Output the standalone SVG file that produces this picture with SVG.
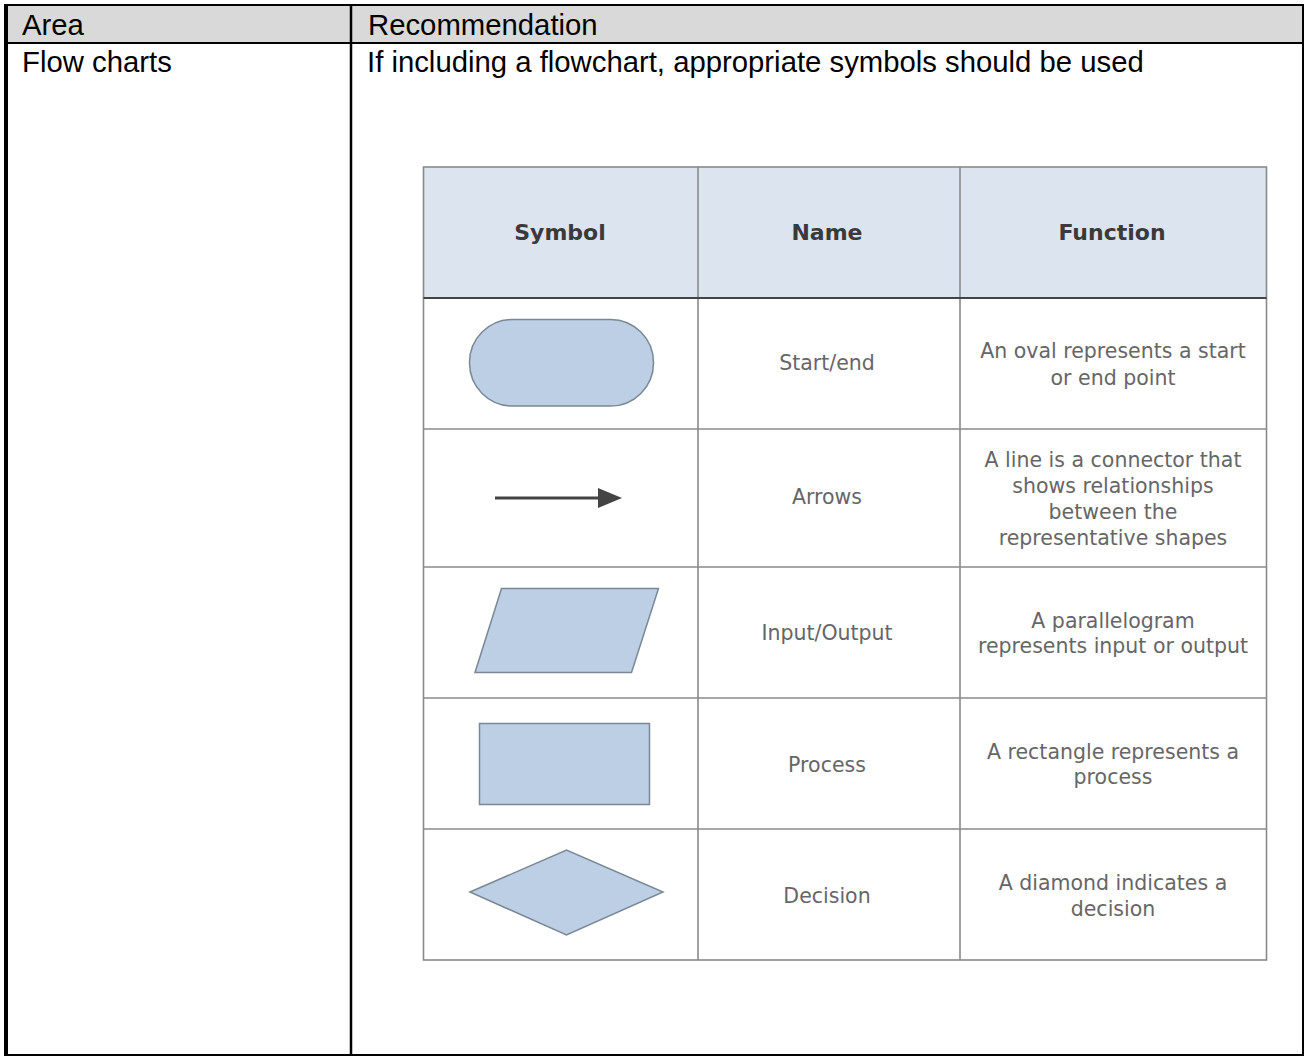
<svg xmlns="http://www.w3.org/2000/svg" width="1304" height="1056" viewBox="0 0 1304 1056">
<style>
.doc{font-family:"Liberation Sans",Arial,sans-serif;font-size:29.3px;fill:#000}
.th{font-family:"DejaVu Sans",Verdana,sans-serif;font-size:22px;font-weight:bold;fill:#3a3a3a;text-anchor:middle}
.td{font-family:"DejaVu Sans",Verdana,sans-serif;font-size:20.5px;fill:#666;text-anchor:middle}
.grid{stroke:#8a8a8a;stroke-width:1.6;fill:none}
.shape{fill:#bccfe5;stroke:#7a8896;stroke-width:1.5}
</style>
<defs>
<marker id="ah" markerWidth="24" markerHeight="20" refX="0" refY="10" orient="auto" markerUnits="userSpaceOnUse" viewBox="0 0 24 20">
<path d="M0,0 L24,10 L0,20 Z" fill="#444"/>
</marker>
</defs>
<rect x="0" y="0" width="1304" height="1056" fill="#fff"/>
<g id="outer-table">
<rect x="6" y="5" width="1296" height="38" fill="#d9d9d9"/>
<line x1="4" y1="5" x2="1304" y2="5" stroke="#000" stroke-width="2"/>
<line x1="6" y1="4" x2="6" y2="1056" stroke="#000" stroke-width="4"/>
<line x1="1303" y1="4" x2="1303" y2="1056" stroke="#000" stroke-width="2"/>
<line x1="4" y1="1055" x2="1304" y2="1055" stroke="#000" stroke-width="2"/>
<line x1="4" y1="43" x2="1304" y2="43" stroke="#000" stroke-width="2"/>
<line x1="351" y1="5" x2="351" y2="1055" stroke="#000" stroke-width="2.5"/>
<text class="doc" x="22" y="35">Area</text>
<text class="doc" x="368" y="35">Recommendation</text>
<text class="doc" x="22" y="72">Flow charts</text>
<text class="doc" x="367" y="72">If including a flowchart, appropriate symbols should be used</text>
</g>
<g id="symbol-table">
<rect x="423.5" y="167" width="843" height="131" fill="#dce4ef"/>
<rect x="423.5" y="167" width="843" height="793" class="grid"/>
<line class="grid" x1="698" y1="167" x2="698" y2="960"/>
<line class="grid" x1="960" y1="167" x2="960" y2="960"/>
<line x1="423.5" y1="298" x2="1266.5" y2="298" stroke="#444" stroke-width="2"/>
<line class="grid" x1="423.5" y1="429" x2="1266.5" y2="429"/>
<line class="grid" x1="423.5" y1="567" x2="1266.5" y2="567"/>
<line class="grid" x1="423.5" y1="698" x2="1266.5" y2="698"/>
<line class="grid" x1="423.5" y1="829" x2="1266.5" y2="829"/>
<text class="th" x="560" y="240">Symbol</text>
<text class="th" x="827" y="240">Name</text>
<text class="th" x="1112" y="240">Function</text>
</g>
<g id="row-startend">
<rect class="shape" x="469.5" y="319.5" width="184" height="86.5" rx="43" ry="43"/>
<text class="td" x="827" y="370">Start/end</text>
<text class="td" x="1113" y="358">An oval represents a start</text>
<text class="td" x="1113" y="385">or end point</text>
</g>
<g id="row-arrows">
<text class="td" x="827" y="504">Arrows</text>
<text class="td" x="1113" y="467">A line is a connector that</text>
<text class="td" x="1113" y="493">shows relationships</text>
<text class="td" x="1113" y="519">between the</text>
<text class="td" x="1113" y="545">representative shapes</text>
</g>
<g id="row-io">
<polygon class="shape" points="501.5,588.5 658.5,588.5 631.5,672.5 475,672.5"/>
<text class="td" x="827" y="640">Input/Output</text>
<text class="td" x="1113" y="628">A parallelogram</text>
<text class="td" x="1113" y="653">represents input or output</text>
</g>
<g id="row-process">
<rect class="shape" x="479.5" y="723.5" width="170" height="81"/>
<text class="td" x="827" y="772">Process</text>
<text class="td" x="1113" y="759">A rectangle represents a</text>
<text class="td" x="1113" y="784">process</text>
</g>
<g id="row-decision">
<polygon class="shape" points="470,892 566.5,850 663,892 566.5,935"/>
<text class="td" x="827" y="903">Decision</text>
<text class="td" x="1113" y="890">A diamond indicates a</text>
<text class="td" x="1113" y="916">decision</text>
</g>
<g id="connectors">
<line x1="495" y1="498" x2="598" y2="498" stroke="#444" stroke-width="3" marker-end="url(#ah)"/>
</g>
</svg>
